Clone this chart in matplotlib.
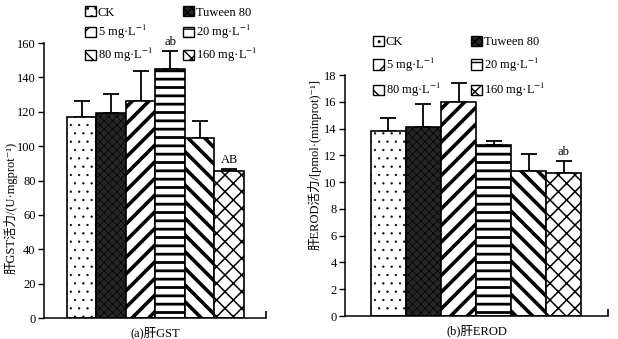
# 肝GST / EROD 活力柱状图
import numpy as np
import matplotlib
matplotlib.use("Agg")
import matplotlib.pyplot as plt
from matplotlib.patches import Patch

plt.rcParams['font.family'] = ['Liberation Serif', 'Noto Sans CJK SC', 'DejaVu Sans']
plt.rcParams['mathtext.fontset'] = 'stix'
plt.rcParams['hatch.linewidth'] = 1.0

# 数据
groups = ['CK', 'Tuween 80', '5 mg·L$^{-1}$', '20 mg·L$^{-1}$', '80 mg·L$^{-1}$', '160 mg·L$^{-1}$']
gst_mean = [117, 119, 126, 145, 105, 85.5]
gst_err = [9.5, 11.5, 18, 10.5, 9.5, 1.2]
erod_mean = [13.85, 14.1, 15.95, 12.75, 10.85, 10.7]
erod_err = [0.95, 1.75, 1.45, 0.35, 1.25, 0.9]
gst_marks = {3: 'ab', 5: 'AB'}
erod_marks = {5: 'ab'}

# 样式: (facecolor, hatch, hatch linewidth)
styles = [('white', '..', 0.4),
          ('#262626', 'xxxx', 0.5),
          ('white', '//', 2.6),
          ('white', '--', 2.0),
          ('white', '\\\\', 2.6),
          ('white', 'xx', 1.1)]


def draw_bars(ax, mean, err, marks, ymax, step, ylab, xlab, xlim, mark_off, ylab_xy):
    x = np.arange(len(mean))
    for i in range(len(mean)):
        fc, h, hlw = styles[i]
        b = ax.bar(x[i], mean[i], width=1.0, color=fc, edgecolor='black',
                   hatch=h, linewidth=1.2, zorder=2)
        for p in b:
            if hasattr(p, 'set_hatch_linewidth'):
                p.set_hatch_linewidth(hlw)
    ax.errorbar(x, mean, yerr=[np.zeros(len(err)), err], fmt='none',
                ecolor='black', elinewidth=1.3, capsize=6, capthick=1.3, zorder=1)
    for i, t in marks.items():
        ax.text(x[i], mean[i] + err[i] + mark_off, t, ha='center', va='bottom', fontsize=9)
    ax.set_ylim(0, ymax)
    ax.set_yticks(np.arange(0, ymax + 0.1, step))
    ax.set_xlim(*xlim)
    ax.set_xticks([xlim[1]])
    ax.set_xticklabels([''])
    ax.tick_params(axis='x', direction='in', length=5, width=1.2)
    ax.tick_params(axis='y', direction='out', length=4, width=1.0, labelsize=9, pad=2)
    for s in ['top', 'right']:
        ax.spines[s].set_visible(False)
    for s in ['left', 'bottom']:
        ax.spines[s].set_linewidth(1.1)
    ax.set_ylabel(ylab, fontsize=9)
    ax.yaxis.set_label_coords(*ylab_xy)
    ax.set_xlabel(xlab, fontsize=9, labelpad=3)


def add_legend(fig, anchor, spacing):
    order = [0, 2, 4, 1, 3, 5]
    handles = []
    for i in order:
        fc, h, hlw = styles[i]
        p = Patch(facecolor=fc, edgecolor='black', hatch=h, linewidth=1.0)
        handles.append(p)
    fig.legend(handles, [groups[i] for i in order], ncol=2, loc='upper left',
               bbox_to_anchor=anchor, bbox_transform=fig.transFigure,
               frameon=False, fontsize=9, handlelength=0.9, handleheight=0.9,
               handletextpad=0.15, columnspacing=2.4, labelspacing=spacing,
               borderpad=0, borderaxespad=0)


fig = plt.figure(figsize=(6.18, 3.39), dpi=100)
ax1 = fig.add_axes([0.0712, 0.0619, 0.3592, 0.8112])
ax2 = fig.add_axes([0.5583, 0.0678, 0.4256, 0.7109])

draw_bars(ax1, gst_mean, gst_err, gst_marks, 160, 20,
          '肝GST活力/(U·mgprot⁻¹)', '(a)肝GST', (-1.28, 6.25), 1.5, (-0.118, 0.40))
draw_bars(ax2, erod_mean, erod_err, erod_marks, 18, 2,
          '肝EROD活力/[pmol·(minprot)⁻¹]', '(b)肝EROD', (-1.24, 6.27), 0.2, (-0.09, 0.63))

add_legend(fig, (0.137, 0.982), 0.38)
add_legend(fig, (0.603, 0.895), 0.6)

fig.savefig('out.png', dpi=100)
